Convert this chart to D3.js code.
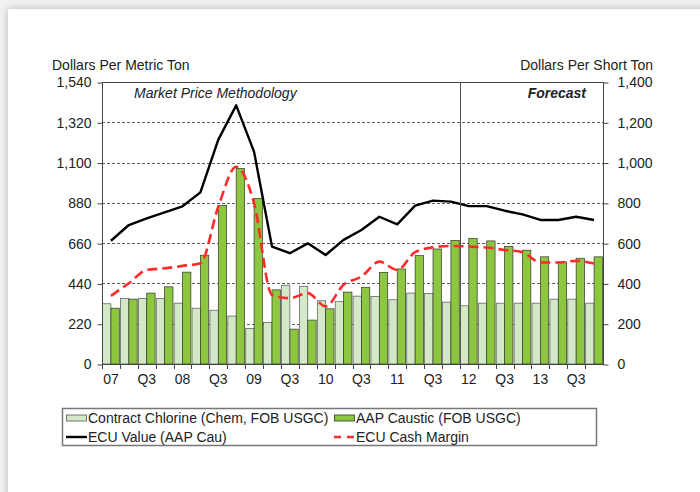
<!DOCTYPE html>
<html>
<head>
<meta charset="utf-8">
<script src="https://cdnjs.cloudflare.com/ajax/libs/d3/7.8.5/d3.min.js"></script>
<style>
    body { margin: 0; background: #ececec; }
    text { font-family: Arial, "Liberation Sans", sans-serif; fill: #222; }
</style>
</head>
<body>
<svg id="chart"></svg>
<script>
// Quarters 2007 Q1 .. 2013 Q4
var quarters = ["07 Q1", "07 Q2", "07 Q3", "07 Q4", "08 Q1", "08 Q2", "08 Q3", "08 Q4",
    "09 Q1", "09 Q2", "09 Q3", "09 Q4", "10 Q1", "10 Q2", "10 Q3", "10 Q4",
    "11 Q1", "11 Q2", "11 Q3", "11 Q4", "12 Q1", "12 Q2", "12 Q3", "12 Q4",
    "13 Q1", "13 Q2", "13 Q3", "13 Q4"];
var tickLabels = ["07", "", "Q3", "", "08", "", "Q3", "", "09", "", "Q3", "", "10", "", "Q3", "",
    "11", "", "Q3", "", "12", "", "Q3", "", "13", "", "Q3", ""];

// Values in dollars per short ton (right axis)
var chlorine = [299, 325, 325, 325, 302, 277, 267, 238, 177, 206, 391, 386, 314, 310,
    337, 335, 319, 352, 350, 307, 289, 302, 302, 302, 302, 322, 322, 302];
var caustic = [277, 322, 352, 383, 456, 540, 788, 971, 822, 368, 173, 218, 274, 357,
    381, 454, 472, 538, 571, 614, 624, 611, 584, 565, 532, 507, 525, 532];
var ecuValue = [612, 690, 723, 753, 783, 852, 1114, 1284, 1053, 583, 550, 599, 541, 616,
    665, 731, 693, 786, 811, 806, 784, 784, 761, 743, 715, 715, 731, 715];
var ecuMargin = [338, 401, 467, 475, 487, 500, 781, 979, 797, 343, 327, 352, 286, 393,
    434, 508, 467, 555, 579, 586, 583, 578, 566, 555, 504, 504, 512, 499];

var leftTicks = [0, 220, 440, 660, 880, 1100, 1320, 1540];
var rightTicks = [0, 200, 400, 600, 800, 1000, 1200, 1400];
var forecastStart = "12 Q1";

var width = 700,
    height = 492,
    plotLeft = 102,
    plotRight = 603,
    plotTop = 82,
    plotBottom = 364,
    fontSize = 14;

var svg = d3.select("#chart")
    .attr("width", width)
    .attr("height", height)
    .style("display", "block");

// Card with soft shadow
var defs = svg.append("defs");
defs.append("filter")
    .attr("id", "shadow")
    .attr("x", "-5%").attr("y", "-5%")
    .attr("width", "110%").attr("height", "110%")
    .append("feDropShadow")
    .attr("dx", 0).attr("dy", 0)
    .attr("stdDeviation", 4)
    .attr("flood-color", "#999")
    .attr("flood-opacity", 0.7);

svg.append("rect")
    .attr("x", 0).attr("y", 0)
    .attr("width", width).attr("height", height)
    .attr("fill", "#f2f2f2");

svg.append("rect")
    .attr("x", 8).attr("y", 9)
    .attr("width", 760).attr("height", 540)
    .attr("fill", "#fff")
    .attr("filter", "url(#shadow)");

// Scales
var x = d3.scaleBand()
    .domain(quarters)
    .range([plotLeft, plotRight])
    .padding(0);

var xSeries = d3.scaleBand()
    .domain(["chlorine", "caustic"])
    .range([0, x.bandwidth()])
    .paddingOuter(0.07)
    .paddingInner(0);

var yLeft = d3.scaleLinear().domain([0, 1540]).range([plotBottom, plotTop]);
var yRight = d3.scaleLinear().domain([0, 1400]).range([plotBottom, plotTop]);

// Grid lines
svg.append("g")
    .selectAll("line")
    .data(rightTicks.slice(1, -1))
    .enter().append("line")
    .attr("x1", plotLeft).attr("x2", plotRight)
    .attr("y1", function (d) { return Math.round(yRight(d)) + 0.5; })
    .attr("y2", function (d) { return Math.round(yRight(d)) + 0.5; })
    .attr("stroke", "#333")
    .attr("stroke-width", 0.8)
    .attr("stroke-dasharray", "3,2");

// Bars
var groups = svg.append("g")
    .selectAll("g")
    .data(quarters)
    .enter().append("g")
    .attr("transform", function (d) { return "translate(" + x(d) + ",0)"; });

groups.append("rect")
    .attr("x", xSeries("chlorine"))
    .attr("width", xSeries.bandwidth())
    .attr("y", function (d, i) { return yRight(chlorine[i]); })
    .attr("height", function (d, i) { return plotBottom - yRight(chlorine[i]); })
    .attr("fill", "#d2e8c6")
    .attr("stroke", "#555")
    .attr("stroke-width", 0.7);

groups.append("rect")
    .attr("x", xSeries("caustic"))
    .attr("width", xSeries.bandwidth())
    .attr("y", function (d, i) { return yRight(caustic[i]); })
    .attr("height", function (d, i) { return plotBottom - yRight(caustic[i]); })
    .attr("fill", "#8dc63f")
    .attr("stroke", "#333")
    .attr("stroke-width", 0.7);

// Lines
function xMid(d, i) { return x(quarters[i]) + x.bandwidth() / 2; }

svg.append("path")
    .datum(ecuMargin)
    .attr("fill", "none")
    .attr("stroke", "#ff2a2a")
    .attr("stroke-width", 2.6)
    .attr("stroke-dasharray", "10,5")
    .attr("d", d3.line().x(xMid).y(function (d) { return yRight(d); }).curve(d3.curveMonotoneX));

svg.append("path")
    .datum(ecuValue)
    .attr("fill", "none")
    .attr("stroke", "#000")
    .attr("stroke-width", 2.4)
    .attr("stroke-linejoin", "round")
    .attr("d", d3.line().x(xMid).y(function (d) { return yRight(d); }));

// Forecast divider
svg.append("line")
    .attr("x1", Math.round(x(forecastStart)) + 0.5)
    .attr("x2", Math.round(x(forecastStart)) + 0.5)
    .attr("y1", plotTop).attr("y2", plotBottom)
    .attr("stroke", "#555")
    .attr("stroke-width", 1);

// Plot frame
svg.append("rect")
    .attr("x", plotLeft + 0.5).attr("y", plotTop + 0.5)
    .attr("width", plotRight - plotLeft).attr("height", plotBottom - plotTop)
    .attr("fill", "none")
    .attr("stroke", "#444")
    .attr("stroke-width", 1);

// Axes
var axisLeft = svg.append("g")
    .attr("transform", "translate(" + (plotLeft + 0.5) + ",0.5)")
    .call(d3.axisLeft(yLeft).tickValues(leftTicks).tickSize(5).tickPadding(6)
        .tickFormat(d3.format(",")));

var axisRight = svg.append("g")
    .attr("transform", "translate(" + (plotRight + 0.5) + ",0.5)")
    .call(d3.axisRight(yRight).tickValues(rightTicks).tickSize(5).tickPadding(9)
        .tickFormat(d3.format(",")));

var axisBottom = svg.append("g")
    .attr("transform", "translate(0," + (plotBottom + 0.5) + ")")
    .call(d3.axisBottom(x).tickSize(0).tickPadding(10)
        .tickFormat(function (d, i) { return tickLabels[i]; }));

// Ticks at quarter boundaries
svg.append("g")
    .selectAll("line")
    .data(quarters)
    .enter().append("line")
    .attr("x1", function (d) { return Math.round(x(d)) + 0.5; })
    .attr("x2", function (d) { return Math.round(x(d)) + 0.5; })
    .attr("y1", plotBottom).attr("y2", plotBottom + 5)
    .attr("stroke", "#444");

[axisLeft, axisRight, axisBottom].forEach(function (a) {
    a.select(".domain").remove();
    a.selectAll("line").attr("stroke", "#444");
    a.selectAll("text")
        .attr("font-size", fontSize)
        .attr("font-family", "Arial, 'Liberation Sans', sans-serif")
        .attr("fill", "#222");
});

// Axis titles
svg.append("text")
    .attr("x", 52).attr("y", 70)
    .attr("font-size", fontSize)
    .text("Dollars Per Metric Ton");

svg.append("text")
    .attr("x", 653).attr("y", 70)
    .attr("font-size", fontSize)
    .style("text-anchor", "end")
    .text("Dollars Per Short Ton");

// Annotations
svg.append("text")
    .attr("x", 134).attr("y", 98)
    .attr("font-size", fontSize)
    .attr("font-style", "italic")
    .text("Market Price Methodology");

svg.append("text")
    .attr("x", 586).attr("y", 98)
    .attr("font-size", fontSize)
    .attr("font-style", "italic")
    .attr("font-weight", "bold")
    .style("text-anchor", "end")
    .text("Forecast");

// Legend
var legend = svg.append("g");
legend.append("rect")
    .attr("x", 62.5).attr("y", 408.5)
    .attr("width", 534).attr("height", 37)
    .attr("fill", "#fff")
    .attr("stroke", "#777")
    .attr("stroke-width", 1.5);

var legendItems = [
    {label: "Contract Chlorine (Chem, FOB USGC)", type: "bar", fill: "#d2e8c6", stroke: "#555", x: 66, y: 418},
    {label: "AAP Caustic (FOB USGC)", type: "bar", fill: "#8dc63f", stroke: "#333", x: 334, y: 418},
    {label: "ECU Value (AAP Cau)", type: "line", stroke: "#000", dash: null, x: 66, y: 437},
    {label: "ECU Cash Margin", type: "line", stroke: "#ff2a2a", dash: "7,6", x: 334, y: 437}
];

legendItems.forEach(function (item) {
    if (item.type === "bar") {
        legend.append("rect")
            .attr("x", item.x + 0.5).attr("y", item.y - 3)
            .attr("width", 20).attr("height", 6)
            .attr("fill", item.fill)
            .attr("stroke", item.stroke)
            .attr("stroke-width", 0.8);
    } else {
        legend.append("line")
            .attr("x1", item.x).attr("x2", item.x + 21)
            .attr("y1", item.y).attr("y2", item.y)
            .attr("stroke", item.stroke)
            .attr("stroke-width", 2.4)
            .attr("stroke-dasharray", item.dash);
    }
    legend.append("text")
        .attr("x", item.x + 22).attr("y", item.y + 5)
        .attr("font-size", fontSize)
        .text(item.label);
});
</script>
</body>
</html>
